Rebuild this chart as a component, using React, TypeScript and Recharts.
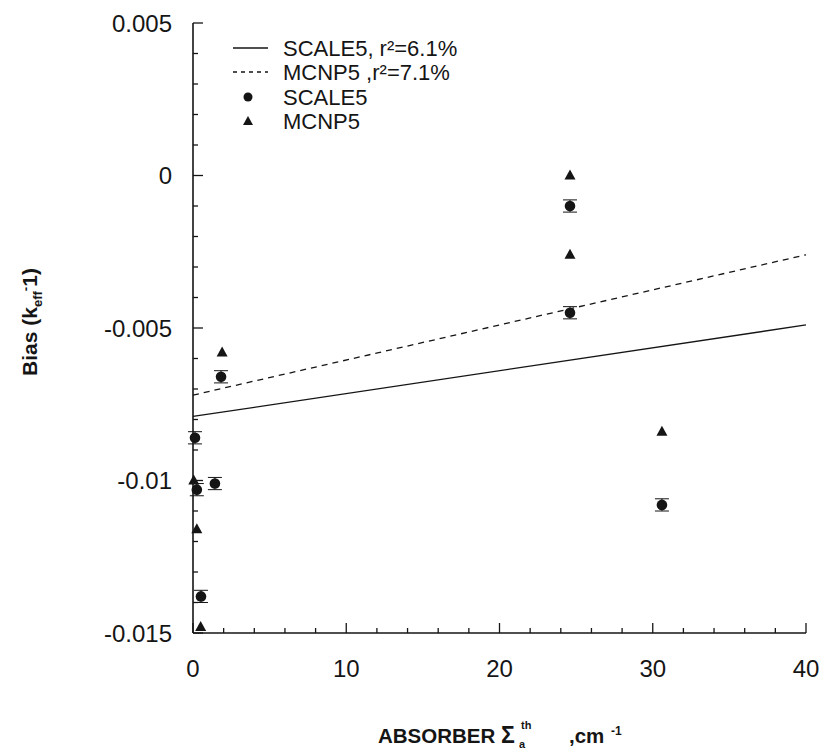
import React from "react";
import {ScatterChart, Scatter, XAxis, YAxis, ErrorBar} from "recharts";

// measured values (SCALE5 circles, MCNP5 triangles)
const scaleX = [0.13, 0.25, 1.43, 0.52, 1.83, 24.6, 24.6, 30.6];
const scaleY = [-0.0086, -0.0103, -0.0101, -0.0138, -0.0066, -0.001, -0.0045, -0.0108];
const scaleErr = [0.0002, 0.0002, 0.0002, 0.0002, 0.0002, 0.0002, 0.0002, 0.0002];

const mcnpX = [1.9, 0.05, 0.25, 0.5, 24.6, 24.6, 30.6];
const mcnpY = [-0.0058, -0.01, -0.0116, -0.0148, 0.0, -0.0026, -0.0084];

// linear fits, end points at x = 0 and x = 40
const fitX = [0, 40];
const scaleFitY = [-0.0079, -0.0049];
const mcnpFitY = [-0.0072, -0.0026];

const xTicks = [0, 2, 4, 6, 8, 10, 12, 14, 16, 18, 20, 22, 24, 26, 28, 30, 32, 34, 36, 38, 40];
const xMajor = [0, 10, 20, 30, 40];
const yTicks = [-0.015, -0.014, -0.013, -0.012, -0.011, -0.01, -0.009, -0.008, -0.007, -0.006, -0.005,
  -0.004, -0.003, -0.002, -0.001, 0, 0.001, 0.002, 0.003, 0.004, 0.005];
const yMajor = [-0.015, -0.01, -0.005, 0, 0.005];

const scaleData = scaleX.map((x, i) => ({x, y: scaleY[i], err: scaleErr[i]}));
const mcnpData = mcnpX.map((x, i) => ({x, y: mcnpY[i]}));
const scaleFit = fitX.map((x, i) => ({x, y: scaleFitY[i]}));
const mcnpFit = fitX.map((x, i) => ({x, y: mcnpFitY[i]}));

const INK = "#151515";
const FONT = "'Liberation Sans', Arial, sans-serif";

const XTick = (props: any) => {
  const {x, y, payload} = props;
  const major = xMajor.includes(payload.value);
  return (
    <g>
      <line x1={x} x2={x} y1={y} y2={y - (major ? 10 : 5)} stroke={INK} strokeWidth={1.3} />
      {major && (
        <text x={x} y={y + 44} textAnchor="middle" fontSize={24} fontFamily={FONT} fill={INK}>
          {payload.value}
        </text>
      )}
    </g>
  );
};

const YTick = (props: any) => {
  const {x, y, payload} = props;
  const major = yMajor.includes(payload.value);
  return (
    <g>
      <line x1={x} x2={x + (major ? 10 : 5)} y1={y} y2={y} stroke={INK} strokeWidth={1.3} />
      {major && (
        <text x={x - 21} y={y} dy="0.36em" textAnchor="end" fontSize={24} fontFamily={FONT} fill={INK}>
          {payload.value}
        </text>
      )}
    </g>
  );
};

const XTitle = () => (
  <g fontSize={20.5} fontWeight="bold" fontFamily={FONT} fill={INK}>
    <text x={378} y={743}>ABSORBER</text>
    <text x={501} y={743} fontSize={23}>Σ</text>
    <text x={519} y={748} fontSize={11}>a</text>
    <text x={521} y={729} fontSize={11}>th</text>
    <text x={569} y={743}>,cm</text>
    <text x={611} y={735} fontSize={12}>-1</text>
  </g>
);

const YTitle = () => (
  <text x={37} y={322} transform="rotate(-90, 37, 322)" textAnchor="middle"
        fontSize={21} fontWeight="bold" fontFamily={FONT} fill={INK}>
    Bias (k
    <tspan fontSize={13} dy={5}>eff</tspan>
    <tspan fontSize={13} dy={-12}>-</tspan>
    <tspan dy={7}>1)</tspan>
  </text>
);

const Dot = (props: any) => <circle cx={props.cx} cy={props.cy} r={5.3} fill={INK} />;
const Tri = (props: any) => (
  <polygon points={`${props.cx},${props.cy - 6} ${props.cx - 5.5},${props.cy + 4} ${props.cx + 5.5},${props.cy + 4}`} fill={INK} />
);
const NoShape = () => <g />;

const LegendBox = () => (
  <svg width={320} height={110} style={{position: "absolute", left: 220, top: 24}}>
    <g fontFamily={FONT} fontSize={22} fill={INK}>
      <line x1={13} x2={48} y1={24} y2={24} stroke={INK} strokeWidth={1.3} />
      <text x={63} y={24} dy="0.36em">SCALE5, r²=6.1%</text>
      <line x1={13} x2={48} y1={48} y2={48} stroke={INK} strokeWidth={1.3} strokeDasharray="4 4" />
      <text x={63} y={48} dy="0.36em">MCNP5 ,r²=7.1%</text>
      <circle cx={28} cy={73} r={4.5} fill={INK} />
      <text x={63} y={73} dy="0.36em">SCALE5</text>
      <polygon points="28,92 23,101 33,101" fill={INK} />
      <text x={63} y={97} dy="0.36em">MCNP5</text>
    </g>
  </svg>
);

export default function App() {
  return (
    <div style={{position: "absolute", left: 0, top: 0, width: 826, height: 754, background: "#fff"}}>
      <ScatterChart width={826} height={754} margin={{top: 23, right: 20, bottom: 0, left: 0}}>
        <XAxis dataKey="x" type="number" domain={[0, 40]} ticks={xTicks} interval={0}
               height={121} tickSize={0} tickMargin={0} tickLine={false}
               axisLine={{stroke: INK, strokeWidth: 1.6}} tick={<XTick />} label={<XTitle />} />
        <XAxis xAxisId="top" orientation="top" type="number" domain={[0, 40]} height={0}
               tick={false} tickLine={false} axisLine={{stroke: INK, strokeWidth: 1.6}} />
        <YAxis dataKey="y" type="number" domain={[-0.015, 0.005]} ticks={yTicks} interval={0}
               width={193} tickSize={0} tickMargin={0} tickLine={false}
               axisLine={{stroke: INK, strokeWidth: 1.6}} tick={<YTick />} label={<YTitle />} />
        <YAxis yAxisId="right" orientation="right" type="number" domain={[-0.015, 0.005]} width={0}
               tick={false} tickLine={false} axisLine={{stroke: INK, strokeWidth: 1.6}} />
        <Scatter data={scaleFit} line={{stroke: INK, strokeWidth: 1.3}} shape={<NoShape />} isAnimationActive={false} />
        <Scatter data={mcnpFit} line={{stroke: INK, strokeWidth: 1.3, strokeDasharray: "6 5"}} shape={<NoShape />} isAnimationActive={false} />
        <Scatter data={scaleData} shape={<Dot />} isAnimationActive={false}>
          <ErrorBar dataKey="err" direction="y" width={7} stroke={INK} strokeWidth={1} />
        </Scatter>
        <Scatter data={mcnpData} shape={<Tri />} isAnimationActive={false} />
      </ScatterChart>
      <LegendBox />
    </div>
  );
}
